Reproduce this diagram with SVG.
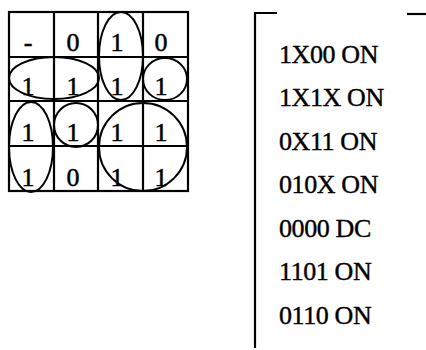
<svg xmlns="http://www.w3.org/2000/svg" width="426" height="350" viewBox="0 0 426 350">
<style>
.g{fill:none;stroke:#000;stroke-width:2.2}
.e{fill:none;stroke:#000;stroke-width:2}
.d{font-family:"Liberation Serif","Times New Roman",serif;font-size:26px;fill:#000;stroke:#000;stroke-width:0.5;text-anchor:middle}
.t{font-family:"Liberation Serif","Times New Roman",serif;font-size:26px;fill:#000;stroke:#000;stroke-width:0.4;letter-spacing:-0.4px}
</style>
<rect width="426" height="350" fill="#fff"/>
<g id="kmap">
<rect class="g" x="9" y="12" width="179" height="179"/>
<line class="g" x1="54" y1="12" x2="54" y2="191"/>
<line class="g" x1="98" y1="12" x2="98" y2="191"/>
<line class="g" x1="143" y1="12" x2="143" y2="191"/>
<line class="g" x1="9" y1="57" x2="188" y2="57"/>
<line class="g" x1="9" y1="101" x2="188" y2="101"/>
<line class="g" x1="9" y1="146" x2="188" y2="146"/>
<text class="d" x="28" y="51">-</text>
<text class="d" x="73" y="51">0</text>
<text class="d" x="117" y="51">1</text>
<text class="d" x="161" y="51">0</text>
<text class="d" x="28" y="95">1</text>
<text class="d" x="73" y="95">1</text>
<text class="d" x="117" y="95">1</text>
<text class="d" x="161" y="95">1</text>
<text class="d" x="28" y="141">1</text>
<text class="d" x="73" y="141">1</text>
<text class="d" x="117" y="141">1</text>
<text class="d" x="161" y="141">1</text>
<text class="d" x="28" y="186">1</text>
<text class="d" x="73" y="186">0</text>
<text class="d" x="117" y="186">1</text>
<text class="d" x="161" y="186">1</text>
</g>
<g id="groups">
<ellipse class="e" cx="121" cy="56" rx="22" ry="44"/>
<ellipse class="e" cx="54" cy="78" rx="45" ry="21"/>
<ellipse class="e" cx="165" cy="79" rx="22" ry="21"/>
<ellipse class="e" cx="31" cy="147" rx="22" ry="45"/>
<ellipse class="e" cx="76" cy="125" rx="22" ry="22"/>
<ellipse class="e" cx="143" cy="147" rx="44" ry="44"/>
</g>
<g id="list">
<path class="g" d="M277 13 H255 V348"/>
<line class="g" x1="407" y1="14" x2="426" y2="14"/>
<text class="t" x="279" y="63">1X00 ON</text>
<text class="t" x="279" y="106">1X1X ON</text>
<text class="t" x="279" y="150">0X11 ON</text>
<text class="t" x="279" y="193">010X ON</text>
<text class="t" x="279" y="237">0000 DC</text>
<text class="t" x="279" y="280">1101 ON</text>
<text class="t" x="279" y="324">0110 ON</text>
</g>
</svg>
